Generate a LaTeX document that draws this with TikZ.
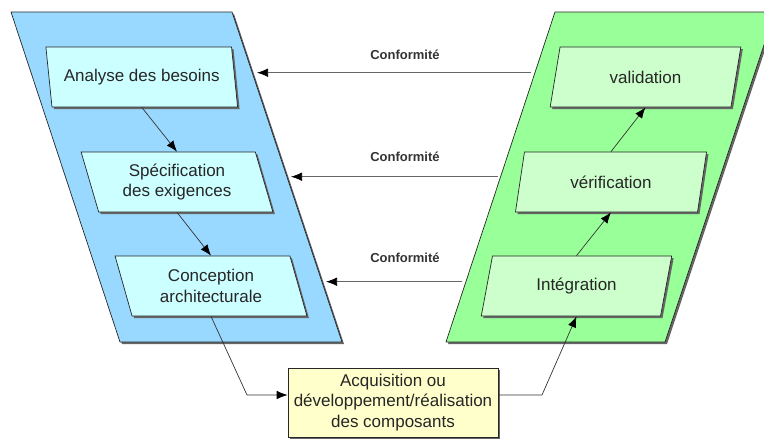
\documentclass[tikz,border=0pt]{standalone}
\usepackage{fontspec}
\setmainfont{Liberation Sans}
\usetikzlibrary{shapes.geometric,shadows,arrows.meta}
\definecolor{bigblue}{RGB}{153,217,255}
\definecolor{biggreen}{RGB}{153,255,153}
\definecolor{boxcyan}{RGB}{204,255,255}
\definecolor{boxgreen}{RGB}{204,255,204}
\definecolor{boxyellow}{RGB}{255,255,204}
\begin{document}
\begin{tikzpicture}[x=1pt,y=-1pt,
  shadowed/.style={drop shadow={shadow xshift=2pt,shadow yshift=-2pt,fill=black!60,opacity=1}},
  boxtext/.style={font=\fontsize{17}{20.5}\selectfont,align=center,text=black!85},
  pgram/.style={trapezium,trapezium stretches=true,minimum width=192pt,minimum height=60pt,
    inner sep=0pt,draw=black!85,line width=0.7pt,boxtext,shadowed},
  lefttilt/.style={pgram,fill=boxcyan,trapezium left angle=108.435,trapezium right angle=71.565},
  righttilt/.style={pgram,fill=boxgreen,trapezium left angle=71.565,trapezium right angle=108.435},
  conn/.style={draw=black!80,line width=0.7pt,-{Latex[length=11pt,width=8.5pt,color=black]}},
  confline/.style={conn,draw=black!60},
  conf/.style={font=\bfseries\fontsize{13}{15}\selectfont,text=black!80}]
\useasboundingbox (0,0) rectangle (764,439);
\clip (0,0) rectangle (764,439);
% big parallelograms
\path[fill=bigblue,draw=black!85,line width=0.7pt,shadowed]
  (11,12) -- (232,12) -- (342,342) -- (120,342) -- cycle;
\path[fill=biggreen,draw=black!85,line width=0.7pt,shadowed]
  (555,12) -- (775,12) -- (665,342) -- (446,342) -- cycle;
% boxes
\node[lefttilt] (ana) at (141.75,77) {Analyse des besoins};
\node[lefttilt] (spec) at (177,182) {Spécification\\des exigences};
\node[lefttilt] (conc) at (211,286) {Conception\\architecturale};
\node[righttilt] (val) at (645.5,77) {validation};
\node[righttilt] (ver) at (611,182) {vérification};
\node[righttilt] (integ) at (576.5,286) {Intégration};
\node[draw=black!85,fill=boxyellow,line width=0.7pt,shadowed,boxtext,
  minimum width=210pt,minimum height=69pt,inner sep=0pt] (acq) at (393,402.5)
  {Acquisition ou\\développement/réalisation\\des composants};
% descending / ascending arrows
\draw[conn] (ana.south) -- (spec.north);
\draw[conn] (spec.south) -- (conc.north);
\coordinate (k1) at (247,395);
\draw[conn] (conc.south) -- (k1) -- (k1 -| acq.west);
\coordinate (k2) at (542,395);
\draw[conn] (k2 -| acq.east) -- (k2) -- (integ.south);
\draw[conn] (integ.north) -- (ver.south);
\draw[conn] (ver.north) -- (val.south);
% conformity arrows
\coordinate (g1) at (531,72.7);
\coordinate (b1) at (257,72.7);
\coordinate (g2) at (498,176.7);
\coordinate (b2) at (291,176.7);
\coordinate (g3) at (462,281.7);
\coordinate (b3) at (326,281.7);
\draw[confline] (g1) -- (b1);
\draw[confline] (g2) -- (b2);
\draw[confline] (g3) -- (b3);
\node[conf] (c1) at (405,54.5) {Conformité};
\node[conf] (c2) at (405,157) {Conformité};
\node[conf] (c3) at (405,258) {Conformité};
\end{tikzpicture}
\end{document}
